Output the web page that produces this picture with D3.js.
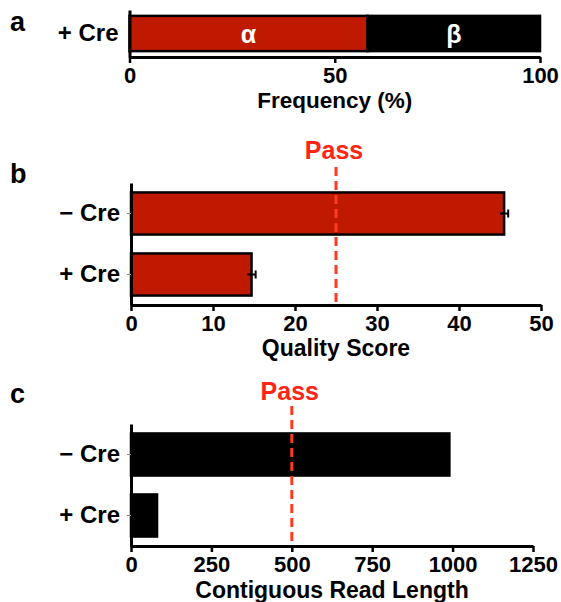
<!DOCTYPE html>
<html>
<head>
<meta charset="utf-8">
<script src="https://cdn.jsdelivr.net/npm/d3@7"></script>
<style>
  html, body { margin: 0; padding: 0; background: #fff; }
  svg { display: block; font-family: 'Liberation Sans', Arial, sans-serif; font-weight: bold; }
</style>
</head>
<body>
<div id="container"></div>
<script>
// data
const freqParts = ['α', 'β'];
const freqValues = [58, 42];
const freqTicks = [0, 50, 100];

const groups = ['− Cre', '+ Cre'];
const qualityMean = [45.5, 14.7];
const qualitySE = [0.5, 0.5];
const qualityTicks = [0, 10, 20, 30, 40, 50];
const qualityPass = 25;

const readLength = [990, 81];
const readTicks = [0, 250, 500, 750, 1000, 1250];
const readPass = 500;

const width = 561;
const height = 602;
const red = '#bf1a00';
const passRed = '#ff2414';
const dashRed = '#ff3a1e';

const svg = d3.select('#container')
  .append('svg')
  .attr('width', width)
  .attr('height', height);

// styles for axes
const styleAxis = (g, tickW) => {
  g.select('.domain').attr('stroke', '#000').attr('stroke-width', 3);
  g.selectAll('.tick line').attr('stroke', '#000').attr('stroke-width', tickW);
  g.selectAll('.tick text').attr('fill', '#000');
};

const panelLetter = (t, x, y) => {
  svg.append('text').attr('x', x).attr('y', y).attr('font-size', 27).text(t);
};

const xTitle = (t, xs, y, size) => {
  const [a, b] = xs.range();
  svg.append('text')
    .attr('x', (a + b) / 2)
    .attr('y', y)
    .attr('text-anchor', 'middle')
    .attr('font-size', size || 23)
    .text(t);
};

// ---------- panel a: stacked frequency ----------
const xA = d3.scaleLinear().domain([0, 100]).range([129.5, 540]);
const yA = d3.scaleBand().domain(['+ Cre']).range([10, 57]).paddingInner(0.25).paddingOuter(0.125);

panelLetter('a', 10, 31);

const stackA = [];
let acc = 0;
freqValues.forEach((v, i) => {
  stackA.push({ name: freqParts[i], x0: acc, x1: acc + v });
  acc += v;
});

const gA = svg.append('g');
gA.selectAll('rect')
  .data(stackA)
  .enter()
  .append('rect')
  .attr('x', (d) => xA(d.x0))
  .attr('width', (d) => xA(d.x1) - xA(d.x0))
  .attr('y', yA('+ Cre'))
  .attr('height', yA.bandwidth())
  .attr('fill', (d, i) => (i === 0 ? red : '#000'))
  .attr('stroke', '#000')
  .attr('stroke-width', 2.5);

gA.selectAll('.part')
  .data(stackA)
  .enter()
  .append('text')
  .attr('class', 'part')
  .attr('x', (d) => (xA(d.x0) + xA(d.x1)) / 2)
  .attr('y', yA('+ Cre') + yA.bandwidth() / 2)
  .attr('dy', '0.36em')
  .attr('text-anchor', 'middle')
  .attr('fill', '#fff')
  .attr('font-size', 25)
  .text((d) => d.name);

svg.append('g')
  .attr('transform', `translate(0,57)`)
  .call(d3.axisBottom(xA).tickValues(freqTicks).tickFormat(d3.format('d')).tickSize(6).tickSizeOuter(0).tickPadding(4))
  .call((g) => g.selectAll('text').attr('font-size', 22).attr('font-family', null))
  .call((g) => styleAxis(g, 2.5));

svg.append('g')
  .attr('transform', `translate(129.5,0)`)
  .call(d3.axisLeft(yA).tickSize(0).tickSizeOuter(0).tickPadding(11))
  .call((g) => g.selectAll('text').attr('font-size', 24).attr('font-family', null))
  .call((g) => styleAxis(g, 1));

xTitle('Frequency (%)', xA, 108, 22.5);

// ---------- helper for panels b, c ----------
function barPanel(opt) {
  const x = d3.scaleLinear().domain(opt.domain).range(opt.xRange);
  const y = d3.scaleBand().domain(groups).range(opt.yRange).paddingInner(0.31).paddingOuter(0.155);

  panelLetter(opt.letter, 10, opt.letterY);

  const g = svg.append('g');
  g.selectAll('rect')
    .data(opt.values)
    .enter()
    .append('rect')
    .attr('x', x(0))
    .attr('width', (d) => x(d) - x(0))
    .attr('y', (d, i) => y(groups[i]))
    .attr('height', y.bandwidth())
    .attr('fill', opt.fill)
    .attr('stroke', '#000')
    .attr('stroke-width', 2.5);

  if (opt.se) {
    const eb = g.selectAll('.err')
      .data(opt.values)
      .enter()
      .append('g')
      .attr('class', 'err')
      .attr('transform', (d, i) => `translate(0,${y(groups[i]) + y.bandwidth() / 2})`);
    eb.append('line')
      .attr('x1', (d, i) => x(d - opt.se[i]))
      .attr('x2', (d, i) => x(d + opt.se[i]))
      .attr('stroke', '#000')
      .attr('stroke-width', 2);
    eb.append('line')
      .attr('x1', (d, i) => x(d + opt.se[i]))
      .attr('x2', (d, i) => x(d + opt.se[i]))
      .attr('y1', -4)
      .attr('y2', 4)
      .attr('stroke', '#000')
      .attr('stroke-width', 2);
  }

  // pass threshold
  const y1 = opt.yRange[1];
  svg.append('line')
    .attr('x1', x(opt.pass))
    .attr('x2', x(opt.pass))
    .attr('y1', opt.dashTop)
    .attr('y2', y1 - 2)
    .attr('stroke', dashRed)
    .attr('stroke-width', 3)
    .attr('stroke-dasharray', '9,5');
  svg.append('text')
    .attr('x', x(opt.pass) - 2)
    .attr('y', opt.passY)
    .attr('text-anchor', 'middle')
    .attr('fill', passRed)
    .attr('font-size', 25)
    .text('Pass');

  svg.append('g')
    .attr('transform', `translate(0,${y1})`)
    .call(d3.axisBottom(x).tickValues(opt.ticks).tickFormat(d3.format('d')).tickSize(6).tickSizeOuter(0).tickPadding(4))
    .call((gg) => gg.selectAll('text').attr('font-size', 22).attr('font-family', null))
    .call((gg) => styleAxis(gg, 2.5));

  svg.append('g')
    .attr('transform', `translate(${opt.xRange[0]},0)`)
    .call(d3.axisLeft(y).tickSize(4).tickSizeOuter(0).tickPadding(7))
    .call((gg) => gg.selectAll('text').attr('font-size', 24).attr('font-family', null))
    .call((gg) => styleAxis(gg, 1))
    .call((gg) => gg.selectAll('.tick line').attr('stroke', '#888'));

  xTitle(opt.title, x, opt.titleY);
}

// ---------- panel b: quality score ----------
barPanel({
  letter: 'b', letterY: 183,
  domain: [0, 50], xRange: [131, 541], yRange: [183, 305],
  values: qualityMean, se: qualitySE, fill: red,
  pass: qualityPass, passY: 159, dashTop: 167,
  ticks: qualityTicks, title: 'Quality Score', titleY: 356,
});

// ---------- panel c: contiguous read length ----------
barPanel({
  letter: 'c', letterY: 403,
  domain: [0, 1250], xRange: [131, 533], yRange: [424, 546],
  values: readLength, se: null, fill: '#000',
  pass: readPass, passY: 400, dashTop: 406,
  ticks: readTicks, title: 'Contiguous Read Length', titleY: 598,
});
</script>
</body>
</html>
